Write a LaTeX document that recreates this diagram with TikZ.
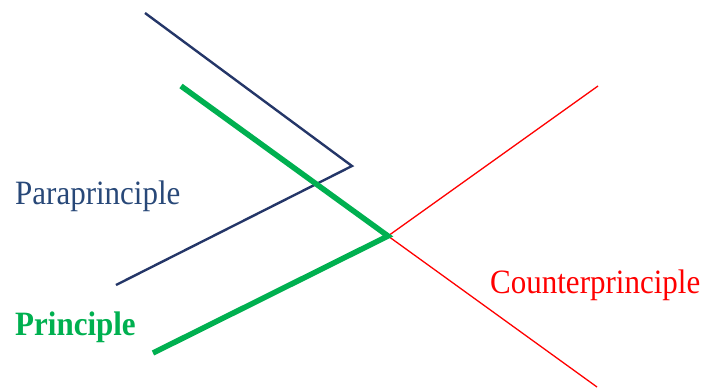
\documentclass[tikz,border=0pt]{standalone}
\usepackage{graphicx}
\usepackage{fontspec}
\setmainfont{Liberation Serif}
\definecolor{navyline}{RGB}{36,54,104}
\definecolor{slatetext}{RGB}{40,72,120}
\definecolor{pgreen}{RGB}{0,176,80}
\definecolor{pred}{RGB}{255,0,0}
\newcommand{\tallish}[1]{\scalebox{1}[1.1]{#1}}
\begin{document}
\begin{tikzpicture}[x=1pt,y=-1pt,
  lbl/.style={anchor=base west,inner sep=0pt,font=\fontsize{31}{31}\selectfont},
  paraline/.style={draw=navyline,line width=2.4pt},
  prinline/.style={draw=pgreen,line width=5.5pt},
  counterline/.style={draw=pred,line width=1.3pt}]
\useasboundingbox (0,0) rectangle (702,389);
\coordinate (pa1) at (145,13);
\coordinate (pa2) at (352,166);
\coordinate (pa3) at (116,285);
\coordinate (pr1) at (181,86);
\coordinate (c) at (388,236);
\coordinate (pr3) at (153,353);
\coordinate (co1) at (598,86);
\coordinate (co3) at (597,387);
\draw[paraline] (pa1) -- (pa2) -- (pa3);
\draw[counterline] (co1) -- (c) -- (co3);
\draw[prinline] (pr1) -- (c) -- (pr3);
\node[lbl,text=slatetext] (para) at (15,204) {\tallish{Paraprinciple}};
\node[lbl,text=pgreen,font=\fontsize{31}{31}\selectfont\bfseries] (prin) at (15,335) {\tallish{Principle}};
\node[lbl,text=pred] (counter) at (490,293) {\tallish{Counterprinciple}};
\end{tikzpicture}
\end{document}
